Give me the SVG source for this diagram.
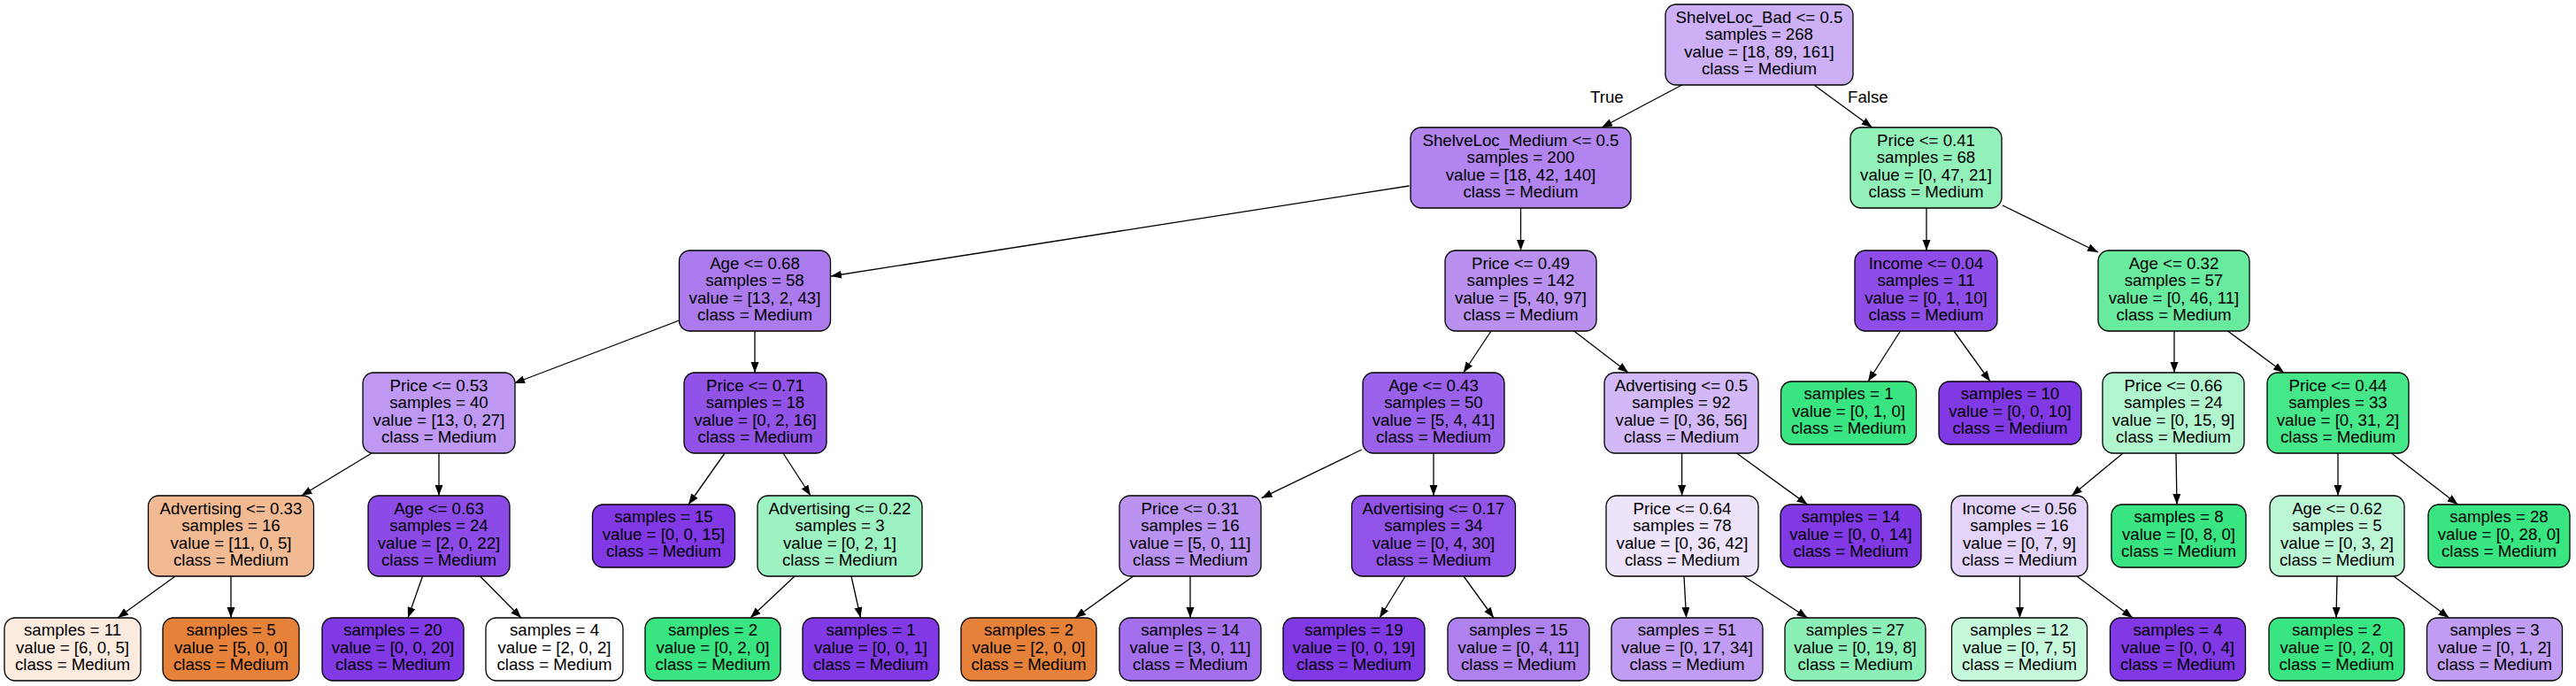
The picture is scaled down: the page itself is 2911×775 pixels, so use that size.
<svg xmlns="http://www.w3.org/2000/svg" width="2911" height="775" viewBox="0 0 2911 775">
<style>
.n rect{stroke:#000;stroke-width:1.3}
text{font-family:"Liberation Sans",Arial,Helvetica,sans-serif;font-size:18.67px;text-anchor:middle;fill:#000}
.lbl{text-anchor:start}
.e line{stroke:#000;stroke-width:1.3;marker-end:url(#ah)}
</style>
<defs>
<marker id="ah" markerWidth="13" markerHeight="10" refX="12" refY="4.5" orient="auto" markerUnits="userSpaceOnUse"><path d="M0,0 L12,4.5 L0,9 z" fill="#000"/></marker>
</defs>
<rect width="2911" height="775" fill="#fff"/>
<g id="connectors" class="e">
<line x1="1900.6" y1="96" x2="1810" y2="144"/>
<line x1="2050.6" y1="96.5" x2="2115.6" y2="144"/>
<line x1="1592.5" y1="210" x2="939" y2="312"/>
<line x1="1718.5" y1="235" x2="1718.5" y2="283"/>
<line x1="2177" y1="235" x2="2177" y2="283"/>
<line x1="2263" y1="232" x2="2371" y2="285"/>
<line x1="767.5" y1="362" x2="581" y2="433"/>
<line x1="853" y1="374" x2="853" y2="421"/>
<line x1="1685" y1="374" x2="1653.75" y2="421"/>
<line x1="1778.75" y1="374" x2="1840" y2="421"/>
<line x1="2147.5" y1="374" x2="2111" y2="431"/>
<line x1="2208" y1="374" x2="2249" y2="431"/>
<line x1="2457" y1="374" x2="2457" y2="421"/>
<line x1="2517.5" y1="374" x2="2581" y2="421"/>
<line x1="420" y1="512" x2="340.6" y2="560"/>
<line x1="496" y1="512" x2="496" y2="560"/>
<line x1="819" y1="512" x2="778" y2="570"/>
<line x1="885" y1="512" x2="916" y2="560"/>
<line x1="1538.75" y1="508" x2="1425.6" y2="562.7"/>
<line x1="1620" y1="512" x2="1620" y2="560"/>
<line x1="1900.6" y1="512" x2="1900.6" y2="560"/>
<line x1="1962.5" y1="512" x2="2042.5" y2="570"/>
<line x1="2399" y1="512" x2="2341" y2="560"/>
<line x1="2459" y1="512" x2="2460" y2="570"/>
<line x1="2642" y1="512" x2="2642" y2="560"/>
<line x1="2702.5" y1="512" x2="2777.5" y2="570"/>
<line x1="198" y1="651" x2="133" y2="698"/>
<line x1="261" y1="651" x2="261" y2="698"/>
<line x1="477.5" y1="651" x2="461" y2="698"/>
<line x1="542.5" y1="651" x2="589" y2="698"/>
<line x1="898" y1="651" x2="848" y2="698"/>
<line x1="962" y1="651" x2="972.5" y2="698"/>
<line x1="1280.6" y1="651" x2="1215" y2="698"/>
<line x1="1345" y1="651" x2="1345" y2="698"/>
<line x1="1588" y1="651" x2="1559" y2="698"/>
<line x1="1654" y1="651" x2="1688" y2="698"/>
<line x1="1903" y1="651" x2="1905.6" y2="698"/>
<line x1="1970.6" y1="651" x2="2042.5" y2="698"/>
<line x1="2282.5" y1="651" x2="2282.5" y2="698"/>
<line x1="2347" y1="651" x2="2410" y2="698"/>
<line x1="2641" y1="651" x2="2640" y2="698"/>
<line x1="2705" y1="651" x2="2767.5" y2="698"/>
<text class="lbl" x="1797" y="116">True</text>
<text class="lbl" x="2088" y="116">False</text>
</g>
<g id="n0" class="n"><rect x="1882" y="5" width="212" height="91" rx="12" fill="#ccaff5"/><text x="1988"><tspan x="1988" y="25.5">ShelveLoc_Bad &lt;= 0.5</tspan><tspan x="1988" y="45">samples = 268</tspan><tspan x="1988" y="64.5">value = [18, 89, 161]</tspan><tspan x="1988" y="84">class = Medium</tspan></text></g>
<g id="n1" class="n"><rect x="1594" y="144" width="249" height="91" rx="12" fill="#b184ef"/><text><tspan x="1718.5" y="164.5">ShelveLoc_Medium &lt;= 0.5</tspan><tspan x="1718.5" y="184">samples = 200</tspan><tspan x="1718.5" y="203.5">value = [18, 42, 140]</tspan><tspan x="1718.5" y="223">class = Medium</tspan></text></g>
<g id="n2" class="n"><rect x="2091" y="144" width="171" height="91" rx="12" fill="#92f1b9"/><text><tspan x="2176.5" y="164.5">Price &lt;= 0.41</tspan><tspan x="2176.5" y="184">samples = 68</tspan><tspan x="2176.5" y="203.5">value = [0, 47, 21]</tspan><tspan x="2176.5" y="223">class = Medium</tspan></text></g>
<g id="n3" class="n"><rect x="767.5" y="283" width="171" height="91" rx="12" fill="#ab7bee"/><text><tspan x="853" y="303.5">Age &lt;= 0.68</tspan><tspan x="853" y="323">samples = 58</tspan><tspan x="853" y="342.5">value = [13, 2, 43]</tspan><tspan x="853" y="362">class = Medium</tspan></text></g>
<g id="n4" class="n"><rect x="1633" y="283" width="171" height="91" rx="12" fill="#b990f0"/><text><tspan x="1718.5" y="303.5">Price &lt;= 0.49</tspan><tspan x="1718.5" y="323">samples = 142</tspan><tspan x="1718.5" y="342.5">value = [5, 40, 97]</tspan><tspan x="1718.5" y="362">class = Medium</tspan></text></g>
<g id="n5" class="n"><rect x="2096" y="283" width="161" height="91" rx="12" fill="#8e4de8"/><text><tspan x="2176.5" y="303.5">Income &lt;= 0.04</tspan><tspan x="2176.5" y="323">samples = 11</tspan><tspan x="2176.5" y="342.5">value = [0, 1, 10]</tspan><tspan x="2176.5" y="362">class = Medium</tspan></text></g>
<g id="n6" class="n"><rect x="2371" y="283" width="171" height="91" rx="12" fill="#68eb9f"/><text><tspan x="2456.5" y="303.5">Age &lt;= 0.32</tspan><tspan x="2456.5" y="323">samples = 57</tspan><tspan x="2456.5" y="342.5">value = [0, 46, 11]</tspan><tspan x="2456.5" y="362">class = Medium</tspan></text></g>
<g id="n7" class="n"><rect x="410" y="421" width="172" height="91" rx="12" fill="#be98f2"/><text><tspan x="496" y="441.5">Price &lt;= 0.53</tspan><tspan x="496" y="461">samples = 40</tspan><tspan x="496" y="480.5">value = [13, 0, 27]</tspan><tspan x="496" y="500">class = Medium</tspan></text></g>
<g id="n8" class="n"><rect x="773" y="421" width="161" height="91" rx="12" fill="#9152e8"/><text><tspan x="853.5" y="441.5">Price &lt;= 0.71</tspan><tspan x="853.5" y="461">samples = 18</tspan><tspan x="853.5" y="480.5">value = [0, 2, 16]</tspan><tspan x="853.5" y="500">class = Medium</tspan></text></g>
<g id="n9" class="n"><rect x="1540" y="421" width="160" height="91" rx="12" fill="#9a61ea"/><text><tspan x="1620" y="441.5">Age &lt;= 0.43</tspan><tspan x="1620" y="461">samples = 50</tspan><tspan x="1620" y="480.5">value = [5, 4, 41]</tspan><tspan x="1620" y="500">class = Medium</tspan></text></g>
<g id="n10" class="n"><rect x="1813" y="421" width="174" height="91" rx="12" fill="#d2b8f6"/><text><tspan x="1900" y="441.5">Advertising &lt;= 0.5</tspan><tspan x="1900" y="461">samples = 92</tspan><tspan x="1900" y="480.5">value = [0, 36, 56]</tspan><tspan x="1900" y="500">class = Medium</tspan></text></g>
<g id="n11" class="n"><rect x="2012.5" y="431" width="153" height="71" rx="12" fill="#39e581"/><text><tspan x="2089" y="451">samples = 1</tspan><tspan x="2089" y="470.5">value = [0, 1, 0]</tspan><tspan x="2089" y="490">class = Medium</tspan></text></g>
<g id="n12" class="n"><rect x="2191" y="431" width="161" height="71" rx="12" fill="#8139e5"/><text><tspan x="2271.5" y="451">samples = 10</tspan><tspan x="2271.5" y="470.5">value = [0, 0, 10]</tspan><tspan x="2271.5" y="490">class = Medium</tspan></text></g>
<g id="n13" class="n"><rect x="2376" y="421" width="160" height="91" rx="12" fill="#b0f5cd"/><text><tspan x="2456" y="441.5">Price &lt;= 0.66</tspan><tspan x="2456" y="461">samples = 24</tspan><tspan x="2456" y="480.5">value = [0, 15, 9]</tspan><tspan x="2456" y="500">class = Medium</tspan></text></g>
<g id="n14" class="n"><rect x="2562" y="421" width="160" height="91" rx="12" fill="#46e789"/><text><tspan x="2642" y="441.5">Price &lt;= 0.44</tspan><tspan x="2642" y="461">samples = 33</tspan><tspan x="2642" y="480.5">value = [0, 31, 2]</tspan><tspan x="2642" y="500">class = Medium</tspan></text></g>
<g id="n15" class="n"><rect x="167.5" y="560" width="187" height="91" rx="12" fill="#f1ba93"/><text><tspan x="261" y="580.5">Advertising &lt;= 0.33</tspan><tspan x="261" y="600">samples = 16</tspan><tspan x="261" y="619.5">value = [11, 0, 5]</tspan><tspan x="261" y="639">class = Medium</tspan></text></g>
<g id="n16" class="n"><rect x="416" y="560" width="160" height="91" rx="12" fill="#8c4be7"/><text><tspan x="496" y="580.5">Age &lt;= 0.63</tspan><tspan x="496" y="600">samples = 24</tspan><tspan x="496" y="619.5">value = [2, 0, 22]</tspan><tspan x="496" y="639">class = Medium</tspan></text></g>
<g id="n17" class="n"><rect x="669.5" y="570" width="161" height="71" rx="12" fill="#8139e5"/><text><tspan x="750" y="590">samples = 15</tspan><tspan x="750" y="609.5">value = [0, 0, 15]</tspan><tspan x="750" y="629">class = Medium</tspan></text></g>
<g id="n18" class="n"><rect x="856" y="560" width="186" height="91" rx="12" fill="#9cf2c0"/><text><tspan x="949" y="580.5">Advertising &lt;= 0.22</tspan><tspan x="949" y="600">samples = 3</tspan><tspan x="949" y="619.5">value = [0, 2, 1]</tspan><tspan x="949" y="639">class = Medium</tspan></text></g>
<g id="n19" class="n"><rect x="1265" y="560" width="160" height="91" rx="12" fill="#ba93f1"/><text><tspan x="1345" y="580.5">Price &lt;= 0.31</tspan><tspan x="1345" y="600">samples = 16</tspan><tspan x="1345" y="619.5">value = [5, 0, 11]</tspan><tspan x="1345" y="639">class = Medium</tspan></text></g>
<g id="n20" class="n"><rect x="1527.5" y="560" width="185" height="91" rx="12" fill="#9253e8"/><text><tspan x="1620" y="580.5">Advertising &lt;= 0.17</tspan><tspan x="1620" y="600">samples = 34</tspan><tspan x="1620" y="619.5">value = [0, 4, 30]</tspan><tspan x="1620" y="639">class = Medium</tspan></text></g>
<g id="n21" class="n"><rect x="1815" y="560" width="172" height="91" rx="12" fill="#ede3fb"/><text><tspan x="1901" y="580.5">Price &lt;= 0.64</tspan><tspan x="1901" y="600">samples = 78</tspan><tspan x="1901" y="619.5">value = [0, 36, 42]</tspan><tspan x="1901" y="639">class = Medium</tspan></text></g>
<g id="n22" class="n"><rect x="2012" y="570" width="159" height="71" rx="12" fill="#8139e5"/><text><tspan x="2091.5" y="590">samples = 14</tspan><tspan x="2091.5" y="609.5">value = [0, 0, 14]</tspan><tspan x="2091.5" y="629">class = Medium</tspan></text></g>
<g id="n23" class="n"><rect x="2205" y="560" width="154" height="91" rx="12" fill="#e3d3f9"/><text><tspan x="2282" y="580.5">Income &lt;= 0.56</tspan><tspan x="2282" y="600">samples = 16</tspan><tspan x="2282" y="619.5">value = [0, 7, 9]</tspan><tspan x="2282" y="639">class = Medium</tspan></text></g>
<g id="n24" class="n"><rect x="2386" y="570" width="152" height="71" rx="12" fill="#39e581"/><text><tspan x="2462" y="590">samples = 8</tspan><tspan x="2462" y="609.5">value = [0, 8, 0]</tspan><tspan x="2462" y="629">class = Medium</tspan></text></g>
<g id="n25" class="n"><rect x="2565" y="560" width="152" height="91" rx="12" fill="#bdf6d5"/><text><tspan x="2641" y="580.5">Age &lt;= 0.62</tspan><tspan x="2641" y="600">samples = 5</tspan><tspan x="2641" y="619.5">value = [0, 3, 2]</tspan><tspan x="2641" y="639">class = Medium</tspan></text></g>
<g id="n26" class="n"><rect x="2744" y="570" width="160" height="71" rx="12" fill="#39e581"/><text><tspan x="2824" y="590">samples = 28</tspan><tspan x="2824" y="609.5">value = [0, 28, 0]</tspan><tspan x="2824" y="629">class = Medium</tspan></text></g>
<g id="n27" class="n"><rect x="5" y="698" width="154" height="71" rx="12" fill="#fbeade"/><text><tspan x="82" y="718">samples = 11</tspan><tspan x="82" y="737.5">value = [6, 0, 5]</tspan><tspan x="82" y="757">class = Medium</tspan></text></g>
<g id="n28" class="n"><rect x="184" y="698" width="154" height="71" rx="12" fill="#e58139"/><text><tspan x="261" y="718">samples = 5</tspan><tspan x="261" y="737.5">value = [5, 0, 0]</tspan><tspan x="261" y="757">class = Medium</tspan></text></g>
<g id="n29" class="n"><rect x="364" y="698" width="160" height="71" rx="12" fill="#8139e5"/><text><tspan x="444" y="718">samples = 20</tspan><tspan x="444" y="737.5">value = [0, 0, 20]</tspan><tspan x="444" y="757">class = Medium</tspan></text></g>
<g id="n30" class="n"><rect x="549" y="698" width="155" height="71" rx="12" fill="#ffffff"/><text><tspan x="626.5" y="718">samples = 4</tspan><tspan x="626.5" y="737.5">value = [2, 0, 2]</tspan><tspan x="626.5" y="757">class = Medium</tspan></text></g>
<g id="n31" class="n"><rect x="729" y="698" width="153" height="71" rx="12" fill="#39e581"/><text><tspan x="805.5" y="718">samples = 2</tspan><tspan x="805.5" y="737.5">value = [0, 2, 0]</tspan><tspan x="805.5" y="757">class = Medium</tspan></text></g>
<g id="n32" class="n"><rect x="907" y="698" width="154" height="71" rx="12" fill="#8139e5"/><text><tspan x="984" y="718">samples = 1</tspan><tspan x="984" y="737.5">value = [0, 0, 1]</tspan><tspan x="984" y="757">class = Medium</tspan></text></g>
<g id="n33" class="n"><rect x="1086" y="698" width="153" height="71" rx="12" fill="#e58139"/><text><tspan x="1162.5" y="718">samples = 2</tspan><tspan x="1162.5" y="737.5">value = [2, 0, 0]</tspan><tspan x="1162.5" y="757">class = Medium</tspan></text></g>
<g id="n34" class="n"><rect x="1265" y="698" width="160" height="71" rx="12" fill="#a36fec"/><text><tspan x="1345" y="718">samples = 14</tspan><tspan x="1345" y="737.5">value = [3, 0, 11]</tspan><tspan x="1345" y="757">class = Medium</tspan></text></g>
<g id="n35" class="n"><rect x="1450" y="698" width="160" height="71" rx="12" fill="#8139e5"/><text><tspan x="1530" y="718">samples = 19</tspan><tspan x="1530" y="737.5">value = [0, 0, 19]</tspan><tspan x="1530" y="757">class = Medium</tspan></text></g>
<g id="n36" class="n"><rect x="1636" y="698" width="160" height="71" rx="12" fill="#af81ee"/><text><tspan x="1716" y="718">samples = 15</tspan><tspan x="1716" y="737.5">value = [0, 4, 11]</tspan><tspan x="1716" y="757">class = Medium</tspan></text></g>
<g id="n37" class="n"><rect x="1821" y="698" width="171" height="71" rx="12" fill="#c09cf2"/><text><tspan x="1906.5" y="718">samples = 51</tspan><tspan x="1906.5" y="737.5">value = [0, 17, 34]</tspan><tspan x="1906.5" y="757">class = Medium</tspan></text></g>
<g id="n38" class="n"><rect x="2017" y="698" width="159" height="71" rx="12" fill="#8cf0b6"/><text><tspan x="2096.5" y="718">samples = 27</tspan><tspan x="2096.5" y="737.5">value = [0, 19, 8]</tspan><tspan x="2096.5" y="757">class = Medium</tspan></text></g>
<g id="n39" class="n"><rect x="2205.5" y="698" width="153" height="71" rx="12" fill="#c6f8db"/><text><tspan x="2282" y="718">samples = 12</tspan><tspan x="2282" y="737.5">value = [0, 7, 5]</tspan><tspan x="2282" y="757">class = Medium</tspan></text></g>
<g id="n40" class="n"><rect x="2384.5" y="698" width="153" height="71" rx="12" fill="#8139e5"/><text><tspan x="2461" y="718">samples = 4</tspan><tspan x="2461" y="737.5">value = [0, 0, 4]</tspan><tspan x="2461" y="757">class = Medium</tspan></text></g>
<g id="n41" class="n"><rect x="2564" y="698" width="153" height="71" rx="12" fill="#39e581"/><text><tspan x="2640.5" y="718">samples = 2</tspan><tspan x="2640.5" y="737.5">value = [0, 2, 0]</tspan><tspan x="2640.5" y="757">class = Medium</tspan></text></g>
<g id="n42" class="n"><rect x="2742.5" y="698" width="153" height="71" rx="12" fill="#c09cf2"/><text><tspan x="2819" y="718">samples = 3</tspan><tspan x="2819" y="737.5">value = [0, 1, 2]</tspan><tspan x="2819" y="757">class = Medium</tspan></text></g>
</svg>
